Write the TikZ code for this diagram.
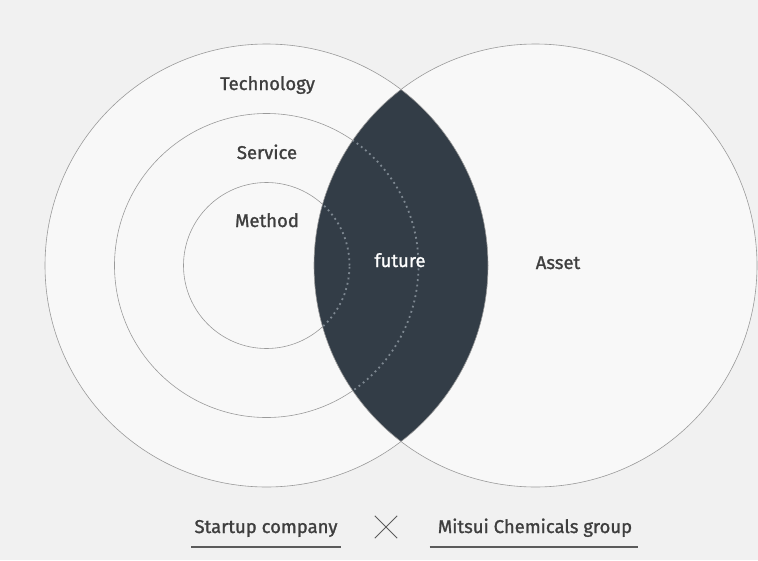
\documentclass[tikz,border=0pt]{standalone}
\usepackage{fontspec}
\setmainfont{Fira Sans}[FakeBold=1.2]
\usetikzlibrary{positioning}
\definecolor{bggray}{HTML}{F1F1F1}
\definecolor{discfill}{HTML}{F8F8F8}
\definecolor{ringgray}{HTML}{9A9A9A}
\definecolor{lensdark}{HTML}{333D47}
\definecolor{dotgray}{HTML}{7E8891}
\definecolor{labelgray}{HTML}{3E3E3E}
\tikzset{
  ring/.style={draw=ringgray, line width=0.6pt},
  dotring/.style={draw=dotgray, line width=1.8pt, dash pattern=on 1.8pt off 3.6pt},
  circlabel/.style={text=labelgray, font=\fontsize{18.5}{20}\selectfont, inner sep=0pt, anchor=base},
  partylabel/.style={text=labelgray, font=\fontsize{18.5}{20}\selectfont, inner sep=0pt, anchor=base},
  rule/.style={draw=labelgray!85, line width=1.1pt},
}
\begin{document}
\begin{tikzpicture}[x=1pt, y=-1pt]
\fill[bggray] (0,0) rectangle (758,560);
\coordinate (L) at (266.5,265.5);
\coordinate (R) at (535.5,265.5);
% discs
\fill[discfill] (L) circle[radius=221.5pt];
\fill[discfill] (R) circle[radius=221.5pt];
\draw[ring] (L) circle[radius=152pt];
\draw[ring] (L) circle[radius=83pt];
% overlap
\begin{scope}
  \clip (R) circle[radius=221.5pt];
  \fill[lensdark] (L) circle[radius=221.5pt];
  \draw[dotring] (L) circle[radius=152pt];
  \draw[dotring] (L) circle[radius=83pt];
\end{scope}
\draw[ring] (L) circle[radius=221.5pt];
\draw[ring] (R) circle[radius=221.5pt];
% labels
\node[circlabel] (technology) at (267.5,90) {Technology};
\node[circlabel] (service) at (267,159) {Service};
\node[circlabel] (method) at (267,227) {Method};
\node[circlabel, text=white] (future) at (400,267) {future};
\node[circlabel] (asset) at (558,269) {Asset};
% bottom
\node[partylabel] (startup) at (266,533) {Startup company};
\node[partylabel] (mitsui) at (535,533) {Mitsui Chemicals group};
\node[minimum size=22pt, inner sep=0pt] (times) at (386,527) {};
\draw[draw=labelgray!85, line width=1pt] (times.north west) -- (times.south east);
\draw[draw=labelgray!85, line width=1pt] (times.north east) -- (times.south west);
\draw[rule] ([shift={(-3,14)}]startup.base west) -- ([shift={(3,14)}]startup.base east);
\draw[rule] ([shift={(-8,14)}]mitsui.base west) -- ([shift={(6,14)}]mitsui.base east);
\end{tikzpicture}
\end{document}
